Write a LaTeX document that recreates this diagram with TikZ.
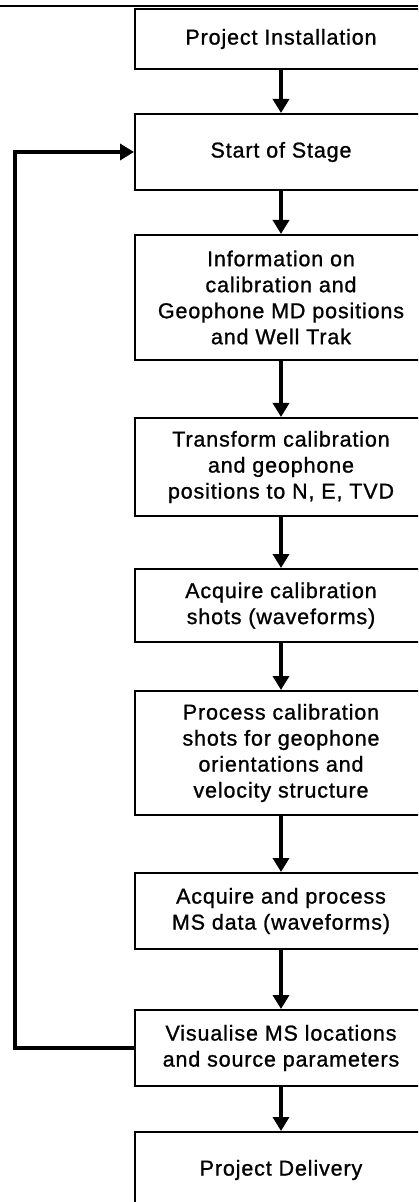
\documentclass[tikz,border=0pt]{standalone}
\usepackage{fontspec}
\setmainfont{Liberation Sans}[LetterSpace=4, FakeBold=1]
\usetikzlibrary{arrows.meta}
\begin{document}
\begin{tikzpicture}[x=0.5pt, y=-0.5pt,
    stepbox/.style={draw=black, line width=1pt, fill=white, minimum width=146pt,
        align=center, inner sep=0pt, font=\fontsize{10.75}{13}\selectfont},
    flow/.style={line width=2pt, -{Triangle[width=8pt, length=7pt]}}]

    % 画布范围
    \clip (0,0) rectangle (418,1202);

    % 顶部细线
    \draw[line width=1pt] (0,6) -- (418,6);

    % 流程框
    \node[stepbox, minimum height=30pt] (install) at (281,39) {Project Installation};
    \node[stepbox, minimum height=38pt] (stage) at (281,152) {Start of Stage};
    \node[stepbox, minimum height=62.5pt] (info) at (281,297.5) {Information on\\calibration and\\Geophone MD positions\\and Well Trak};
    \node[stepbox, minimum height=49pt] (transform) at (281,467) {Transform calibration\\and geophone\\positions to N, E, TVD};
    \node[stepbox, minimum height=36.5pt] (acqcal) at (281,605.5) {Acquire calibration\\shots (waveforms)};
    \node[stepbox, minimum height=62pt] (proccal) at (281,753) {Process calibration\\shots for geophone\\orientations and\\velocity structure};
    \node[stepbox, minimum height=38pt] (acqms) at (281,911) {Acquire and process\\MS data (waveforms)};
    \node[stepbox, minimum height=38pt] (visual) at (281,1048) {Visualise MS locations\\and source parameters};
    \node[stepbox, minimum height=38pt] (delivery) at (281,1170) {Project Delivery};

    % 箭头
    \draw[flow] (install) -- (stage);
    \draw[flow] (stage) -- (info);
    \draw[flow] (info) -- (transform);
    \draw[flow] (transform) -- (acqcal);
    \draw[flow] (acqcal) -- (proccal);
    \draw[flow] (proccal) -- (acqms);
    \draw[flow] (acqms) -- (visual);
    \draw[flow] (visual) -- (delivery);

    % 回路
    \coordinate (loop) at (15,152);
    \draw[flow] (visual.west) -| (loop) |- (stage.west);

\end{tikzpicture}
\end{document}
